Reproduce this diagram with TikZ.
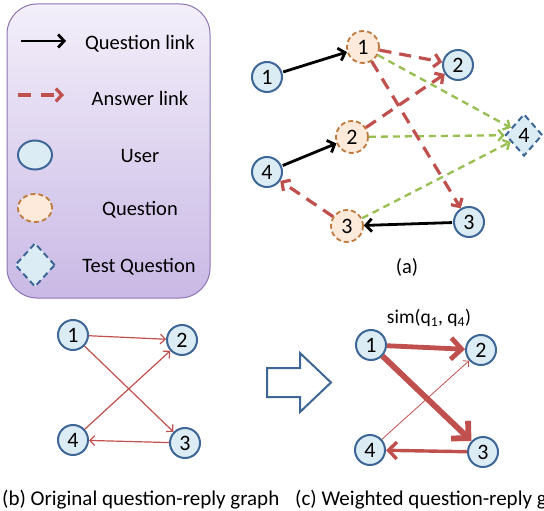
\documentclass[tikz,border=0pt]{standalone}
\usepackage{fontspec}
\setmainfont{Carlito}
\usetikzlibrary{arrows.meta,shapes.geometric}

\definecolor{userfill}{RGB}{219,236,244}
\definecolor{userline}{RGB}{62,102,150}
\definecolor{qfill}{RGB}{253,234,218}
\definecolor{qline}{RGB}{192,122,62}
\definecolor{ansred}{RGB}{192,80,77}
\definecolor{simgreen}{RGB}{150,190,80}
\definecolor{legtop}{RGB}{243,239,250}
\definecolor{legbot}{RGB}{201,185,229}
\definecolor{legline}{RGB}{140,115,178}

\tikzset{
  txt/.style={font=\fontsize{20.5}{22}\selectfont, inner sep=0pt},
  user/.style={circle, draw=userline, fill=userfill, line width=2pt,
    minimum size=30pt, inner sep=0pt, font=\fontsize{22}{22}\selectfont},
  quest/.style={circle, draw=qline, fill=qfill, line width=1.8pt,
    dash pattern=on 5pt off 3pt, minimum size=32pt, inner sep=0pt,
    font=\fontsize{22}{22}\selectfont},
  testq/.style={diamond, draw=userline, fill=userfill, line width=2pt,
    dash pattern=on 6pt off 4pt, minimum width=37pt, minimum height=42pt,
    inner sep=0pt, font=\fontsize{22}{22}\selectfont},
  qlink/.style={black, line width=2.8pt,
    -{Straight Barb[length=6pt,width=13pt]}, shorten <=1pt},
  alink/.style={ansred, line width=3.2pt, dash pattern=on 12pt off 8pt,
    -{Straight Barb[length=6pt,width=13pt]}},
  slink/.style={simgreen, line width=2.3pt, dash pattern=on 7pt off 5pt,
    -{Straight Barb[length=5pt,width=11pt]}},
  rlink/.style={ansred, -{Straight Barb[length=#1*1.6pt+3pt,width=#1*3.2pt+6pt]},
    line width=#1pt},
}

\begin{document}
\begin{tikzpicture}[x=1pt,y=-1pt]
\useasboundingbox (0,0) rectangle (544,511);

% ---------- legend ----------
\draw[legline, line width=1pt, rounded corners=30pt, top color=legtop, bottom color=legbot]
  (7,4) rectangle (210,298);

\coordinate (lqa) at (20,41);  \coordinate (lqb) at (66,41);
\coordinate (laa) at (18,95);  \coordinate (lab) at (64,95);
\draw[qlink] (lqa) -- (lqb);
\draw[alink, dash pattern=on 13pt off 10pt] (laa) -- (lab);
\node[user, ellipse, minimum width=34pt, minimum height=29pt] (luser) at (35,155) {};
\node[quest, ellipse, minimum width=34pt, minimum height=28pt] (lquest) at (35,208) {};
\node[testq, minimum width=40pt, minimum height=44pt] (ltest) at (35,265) {};

\node[txt] (tq) at (140,44) {Question link};
\node[txt] (ta) at (140,98) {Answer link};
\node[txt] (tu) at (140,156) {User};
\node[txt] (tqq) at (140,210) {Question};
\node[txt] (tt) at (139,267) {Test Question};

% ---------- (a) users, questions and links ----------
\node[user]  (u1) at (267,77)  {1};
\node[quest] (q1) at (363,47)  {1};
\node[user]  (u2) at (458,65)  {2};
\node[quest] (q2) at (352,137) {2};
\node[testq] (d4) at (524,135) {4};
\node[user]  (u4) at (267,172) {4};
\node[quest] (q3) at (347,226) {3};
\node[user]  (u3) at (469,222) {3};

\draw[slink] (q1) -- (d4);
\draw[slink] (q2) -- (d4);
\draw[slink] (q3) -- (d4);
\draw[alink] (q1) -- (u2);
\draw[alink] (q1) -- (u3);
\draw[alink] (q2) -- (u2);
\draw[alink] (q3) -- (u4);
\draw[qlink] (u1) -- (q1);
\draw[qlink] (u4) -- (q2);
\draw[qlink] (u3) -- (q3);

\node[txt, font=\fontsize{20.5}{22}\selectfont] (la) at (407,267) {(a)};

% ---------- (b) original question-reply graph ----------
\node[user] (b1) at (73,335)  {1};
\node[user] (b2) at (182,340) {2};
\node[user] (b4) at (73,440)  {4};
\node[user] (b3) at (185,443) {3};
\draw[rlink=1.2] (b1) -- (b2);
\draw[rlink=1.2] (b1) -- (b3);
\draw[rlink=1.2] (b3) -- (b4);
\draw[rlink=1.2] (b4) -- (b2);

% ---------- transition arrow ----------
\draw[userline, line width=2pt, fill=white, line join=miter]
  (267,368) -- (300,368) -- (300,353) -- (331,382.5) -- (300,412)
  -- (300,397) -- (267,397) -- cycle;

% ---------- (c) weighted question-reply graph ----------
\node[user] (c1) at (371,345) {1};
\node[user] (c2) at (481,350) {2};
\node[user] (c4) at (370,450) {4};
\node[user] (c3) at (483,452) {3};
\draw[rlink=4.8] (c1) -- (c2);
\draw[rlink=5.8] (c1) -- (c3);
\draw[rlink=3.4] (c3) -- (c4);
\draw[rlink=0.8] (c4) -- (c2);
\node[font=\fontsize{19.5}{20}\selectfont, inner sep=0pt] (sim) at (429,318)
  {sim(q\textsubscript{1}, q\textsubscript{4})};

% ---------- captions ----------
\node[txt, font=\fontsize{21}{22}\selectfont, anchor=west] (capb) at (2,500)
  {(b) Original question-reply graph};
\node[txt, font=\fontsize{21}{22}\selectfont, anchor=west] (capc) at (295,500)
  {(c) Weighted question-reply graph};
\end{tikzpicture}
\end{document}
